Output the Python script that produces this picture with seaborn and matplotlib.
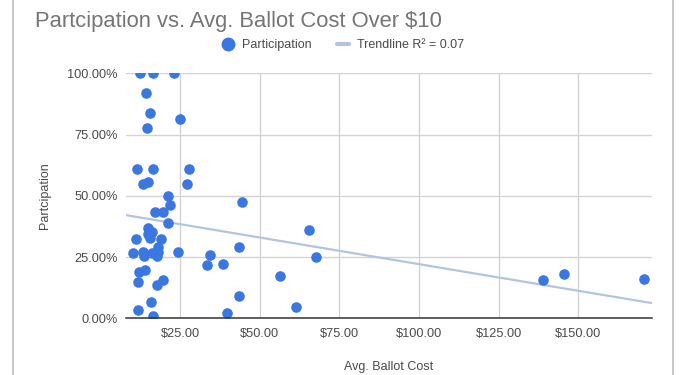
import matplotlib
matplotlib.use("Agg")
import matplotlib.pyplot as plt
import seaborn as sns
import pandas as pd
from matplotlib.lines import Line2D
from matplotlib.ticker import FixedLocator, FuncFormatter

# ---- data ----
avg_ballot_cost = [
    12.4, 16.4, 23.1, 14.2, 15.4, 25.1, 14.5, 11.5, 16.6, 27.9,
    13.3, 15.0, 27.2, 21.3, 21.9, 17.1, 19.6, 44.3,
    21.3, 14.9, 16.1, 14.8, 11.1, 15.6, 18.9, 18.2, 10.3, 13.2,
    13.8, 16.1, 17.7, 18.0, 24.2, 34.4, 33.4, 38.6, 43.6, 65.6,
    67.7, 12.1, 14.0, 11.7, 17.7, 19.6, 56.4, 43.6, 61.4, 39.8,
    11.7, 15.9, 16.6, 139.1, 145.6, 170.6,
]
participation_pct = [
    100.0, 100.0, 100.0, 92.1, 83.9, 81.2, 77.6, 60.8, 60.8, 60.8,
    54.7, 55.5, 54.7, 49.9, 46.2, 43.5, 43.3, 47.3,
    39.0, 36.7, 35.3, 34.3, 32.4, 32.9, 32.4, 29.2, 26.5, 27.0,
    25.6, 26.5, 25.6, 27.2, 26.9, 25.8, 21.8, 22.2, 29.2, 36.0,
    25.1, 19.0, 19.7, 14.9, 13.6, 15.6, 17.3, 9.2, 4.7, 2.0,
    3.4, 6.8, 1.1, 15.6, 18.0, 16.2,
]
x_ticks = [25, 50, 75, 100, 125, 150]
y_ticks = [0, 25, 50, 75, 100]

title = "Partcipation vs. Avg. Ballot Cost Over $10"
x_label = "Avg. Ballot Cost"
y_label = "Partcipation"
legend_labels = ["Participation", "Trendline R\u00b2 = 0.07"]

df = pd.DataFrame({"cost": avg_ballot_cost, "part": participation_pct})

FONT = ["Liberation Sans", "DejaVu Sans"]
sns.set_style("white")
plt.rcParams["font.family"] = FONT

DOT = "#3a77e0"
TREND = "#b3c4e3"
TXT = "#4a4a4a"

fig = plt.figure(figsize=(6.92, 3.75), dpi=100)
ax = fig.add_axes([126 / 692, 1 - 318.3 / 375, (651.7 - 126) / 692, (318.3 - 73.3) / 375])
ax.set_xlim(8.0, 173.1)
ax.set_ylim(0, 100)

sns.regplot(data=df, x="cost", y="part", scatter=False, ci=None, truncate=False,
            ax=ax, line_kws=dict(color=TREND, lw=1.6, zorder=2))
sns.scatterplot(data=df, x="cost", y="part", ax=ax, color=DOT, s=58,
                linewidth=0, zorder=3, clip_on=True)

ax.set_xlim(8.0, 173.1)
ax.set_ylim(0, 100)
ax.xaxis.set_major_locator(FixedLocator(x_ticks))
ax.yaxis.set_major_locator(FixedLocator(y_ticks))
ax.xaxis.set_major_formatter(FuncFormatter(lambda v, p: f"${v:.2f}"))
ax.yaxis.set_major_formatter(FuncFormatter(lambda v, p: f"{v:.2f}%"))
ax.grid(True, color="#d3d3d3", lw=1)
ax.set_axisbelow(True)
for s in ["top", "right", "left"]:
    ax.spines[s].set_visible(False)
ax.spines["bottom"].set_color("#333333")
ax.spines["bottom"].set_linewidth(1.1)
ax.spines["bottom"].set_zorder(4)
ax.tick_params(axis="both", length=0, labelsize=9.2, colors=TXT)
ax.tick_params(axis="y", pad=6)
ax.tick_params(axis="x", pad=7)
ax.set_xlabel(x_label, fontsize=9, color=TXT, labelpad=15)
ax.set_ylabel(y_label, fontsize=9, color=TXT, labelpad=12)

fig.text(35 / 692, 1 - 27 / 375, title, fontsize=15.8, color="#757575",
         ha="left", va="baseline")

handles = [
    Line2D([], [], marker="o", linestyle="none", color=DOT, markersize=9),
    Line2D([], [], color=TREND, lw=3),
]
fig.legend(handles, legend_labels, loc="center", bbox_to_anchor=(343 / 692, 1 - 45 / 375),
           ncol=2, frameon=False, fontsize=9, labelcolor=TXT, handlelength=1.0,
           handletextpad=0.6, columnspacing=2.0)

# card border
fig.add_artist(Line2D([13 / 692, 13 / 692], [0, 1], color="#bdbdbd", lw=1.2))
fig.add_artist(Line2D([673 / 692, 673 / 692], [0, 1], color="#bdbdbd", lw=1.2))

fig.savefig("out.png", dpi=100)
